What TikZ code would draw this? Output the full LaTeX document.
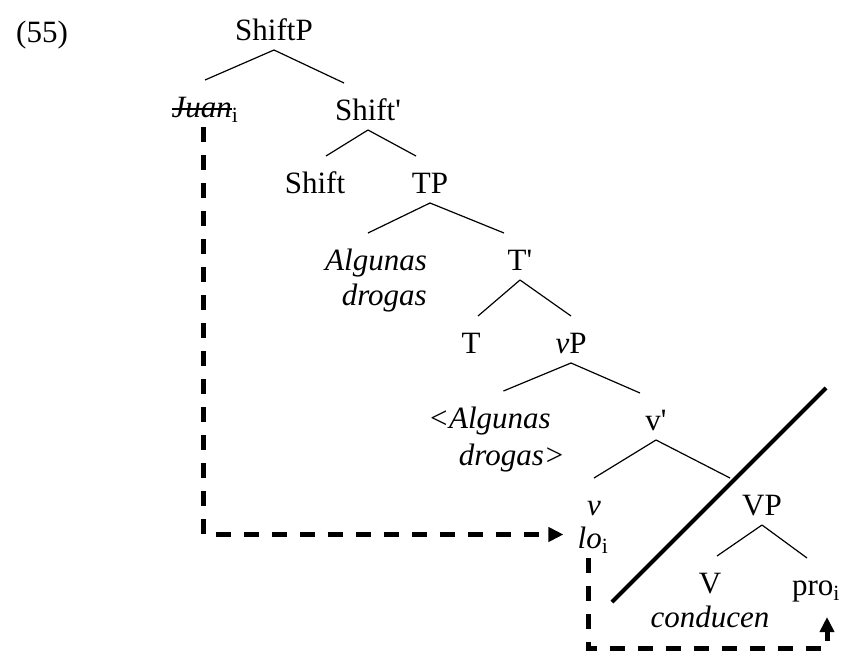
\documentclass[tikz,border=0pt]{standalone}
\usepackage{fontspec}
\setmainfont{Liberation Serif}
\usetikzlibrary{arrows.meta}
\newcommand{\strikeword}[1]{\setbox0\hbox{#1}\rlap{\rule[0.23em]{\wd0}{0.06em}}\box0}
\tikzset{>={Triangle[length=15pt,width=14pt]}}
\tikzset{cat/.style={inner sep=0pt,outer ysep=10pt,text height=27pt,text depth=0pt,anchor=base},
  copyline/.style={->,line width=5pt,dash pattern=on 15pt off 13pt}}

\begin{document}
\begin{tikzpicture}[x=1pt,y=-1pt,font=\fontsize{31}{35}\selectfont]
          \useasboundingbox (0,0) rectangle (843,656);
          \node[cat] (ex) at (42,42) {(55)};
          \node[cat] (ShiftP) at (274,40) {ShiftP};
          \node[cat] (Juan) at (205,117) {\strikeword{\textit{Juan}}\textsubscript{i}};
          \node[cat] (Shiftbar) at (368,120) {Shift\textquotesingle};
          \node[cat] (Shift) at (315,193) {Shift};
          \node[cat] (TP) at (430,193) {TP};
          \node[cat,anchor=base east] (AlgTP) at (427,270) {\textit{Algunas}};
          \node[cat,anchor=base east] (drogTP) at (427,305) {\textit{drogas}};
          \node[cat] (Tbar) at (520,270) {T\textquotesingle};
          \node[cat] (T) at (471,353) {T};
          \node[cat] (vP) at (571,353) {\textit{v}P};
          \node[cat,anchor=base west] (Algv) at (428,428) {\textit{<Algunas}};
          \node[cat,anchor=base east] (drogv) at (565,465) {\textit{drogas>}};
          \node[cat] (vbar) at (656,430) {v\textquotesingle};
          \node[cat] (v) at (594,515) {\textit{v}};
          \node[cat] (lo) at (593,548) {\textit{lo}\textsubscript{i}};
          \node[cat] (VP) at (762,515) {VP};
          \node[cat] (V) at (710,593) {V};
          \node[cat] (conducen) at (710,627) {\textit{conducen}};
          \node[cat] (pro) at (816,595) {pro\textsubscript{i}};
          \begin{scope}[line width=1.2pt]
            \draw (ShiftP.south) -- (Juan.north);
            \draw (ShiftP.south) -- ([xshift=-24pt]Shiftbar.north);
            \draw (Shiftbar.south) -- ([xshift=11pt]Shift.north);
            \draw (Shiftbar.south) -- ([xshift=-14pt]TP.north);
            \draw (TP.south) -- ([xshift=-8pt]AlgTP.north);
            \draw (TP.south) -- ([xshift=-16pt]Tbar.north);
            \draw (Tbar.south) -- ([xshift=7pt]T.north);
            \draw (Tbar.south) -- (vP.north);
            \draw (vP.south) -- ([xshift=14pt]Algv.north);
            \draw (vP.south) -- ([xshift=-16pt]vbar.north);
            \draw (vbar.south) -- (v.north);
            \draw (vbar.south) -- ([xshift=-32pt]VP.north);
            \draw (VP.south) -- ([xshift=7pt]V.north);
            \draw (VP.south) -- ([xshift=-9pt]pro.north);
          \end{scope}
          \coordinate (cutlo) at (612,602);
          \coordinate (cuthi) at (826,388);
          \draw[line width=4pt] (cutlo) -- (cuthi);
          \coordinate (loopbot) at (827,648);
          \draw[copyline,shorten >=14pt] ([xshift=-2pt]Juan.south) |- (lo.west);
          \draw[copyline,shorten >=12pt] ([xshift=-5pt]lo.south) |- (loopbot) -- ([xshift=11pt]pro.south);
        \end{tikzpicture}
\end{document}
